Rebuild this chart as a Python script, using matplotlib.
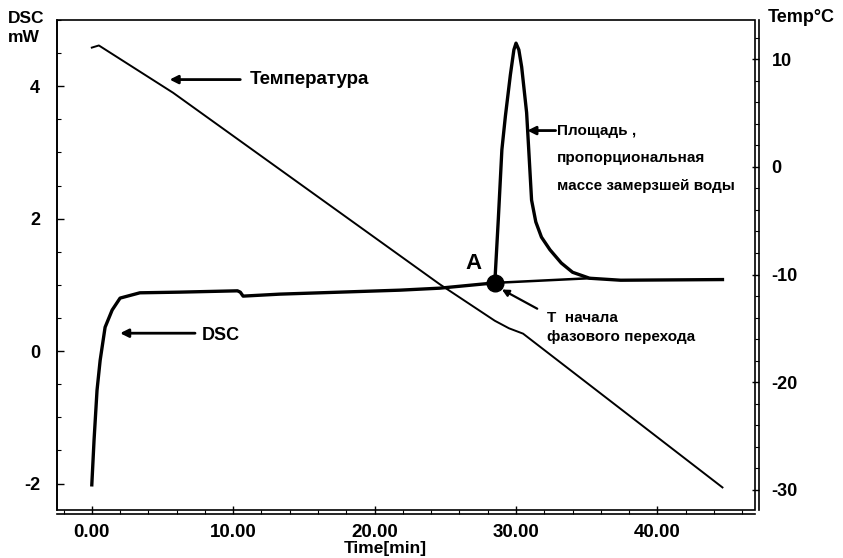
import matplotlib
matplotlib.use("Agg")
import matplotlib.pyplot as plt
from matplotlib.patches import Rectangle
from matplotlib.ticker import MultipleLocator, FormatStrFormatter

plt.rcParams['font.family'] = ['Liberation Sans', 'DejaVu Sans']
plt.rcParams['font.weight'] = 'bold'
plt.rcParams['axes.unicode_minus'] = False

# DSC signal, mW
dsc_time = [0.0, 0.16, 0.37, 0.59, 0.94, 1.44, 2.0, 3.4, 6.2, 10.3, 10.5, 10.7, 13.3,
            21.8, 24.6, 28.5, 28.75, 29.0, 29.25, 29.6, 29.85, 30.0, 30.2, 30.4, 30.75,
            30.9, 31.1, 31.4, 31.8, 32.4, 33.2, 34.0, 35.2, 37.4, 44.6]
dsc_mw = [-2.02, -1.34, -0.59, -0.14, 0.36, 0.62, 0.80, 0.88, 0.89, 0.91, 0.89, 0.83, 0.86,
          0.92, 0.95, 1.03, 2.0, 3.04, 3.55, 4.17, 4.55, 4.65, 4.55, 4.29, 3.60,
          3.04, 2.28, 1.95, 1.72, 1.53, 1.33, 1.19, 1.10, 1.07, 1.08]

# temperature, degC
temp_time = [0.0, 0.5, 5.75, 24.6, 28.5, 29.5, 30.5, 44.6]
temp_c = [11.1, 11.3, 6.9, -10.9, -14.3, -15.0, -15.5, -29.8]

# onset point A and integration baseline
onset_t, onset_mw = 28.5, 1.03
base_time = [28.5, 35.2]
base_mw = [1.03, 1.10]

fig = plt.figure(figsize=(8.43, 5.58), dpi=100)
ax = fig.add_axes([0.0673, 0.086, 0.8283, 0.8782])
ax2 = ax.twinx()

ax.plot(dsc_time, dsc_mw, color='black', lw=2.4, solid_joinstyle='round')
ax.plot(base_time, base_mw, color='black', lw=1.8)
ax.plot([onset_t], [onset_mw], 'o', color='black', ms=12)
ax2.plot(temp_time, temp_c, color='black', lw=1.4)

ax.set_xlim(-2.48, 46.9)
ax.set_ylim(-2.40, 5.0)
ax2.set_ylim(-31.9, 13.67)

# frame plus slightly offset axis lines, as in the original
ax.add_patch(Rectangle((0, 0), 1, 1, transform=ax.transAxes, fill=False,
                       lw=1.2, ec='black', clip_on=False, zorder=5))
for sp in ['top', 'right']:
    ax.spines[sp].set_visible(False)
ax.spines['bottom'].set_position(('outward', 3))
ax.spines['left'].set_linewidth(1.2)
ax.spines['bottom'].set_linewidth(1.2)
for sp in ['top', 'left', 'bottom']:
    ax2.spines[sp].set_visible(False)
ax2.spines['right'].set_position(('outward', 3))
ax2.spines['right'].set_linewidth(1.2)

ax.xaxis.set_major_locator(MultipleLocator(10))
ax.xaxis.set_minor_locator(MultipleLocator(2))
ax.xaxis.set_major_formatter(FormatStrFormatter('%.2f'))
ax.yaxis.set_major_locator(MultipleLocator(2))
ax.yaxis.set_minor_locator(MultipleLocator(0.5))
ax2.yaxis.set_major_locator(MultipleLocator(10))
ax2.yaxis.set_minor_locator(MultipleLocator(2))

ax.tick_params(axis='x', which='major', direction='in', length=6, width=1, labelsize=13.5, pad=7)
ax.tick_params(axis='x', which='minor', direction='in', length=3, width=0.8)
ax.tick_params(axis='y', which='major', direction='in', length=5, width=1, labelsize=13, pad=12)
ax.tick_params(axis='y', which='minor', direction='in', length=3, width=0.8)
ax2.tick_params(axis='y', which='major', direction='in', length=5, width=1, labelsize=13, pad=9)
ax2.tick_params(axis='y', which='minor', direction='in', length=3, width=0.8)

fig.text(385 / 843, 1 - 548 / 558, 'Time[min]', ha='center', va='center', fontsize=12.5,
         fontweight='bold')
fig.text(8 / 843, 1 - 28 / 558, 'DSC\nmW', ha='left', va='center', fontsize=12.5,
         fontweight='bold', linespacing=1.3)
fig.text(768 / 843, 1 - 18 / 558, 'Temp°C', ha='left', va='center', fontsize=13, fontweight='bold')

arrow = dict(arrowstyle='-|>', color='black', lw=2, mutation_scale=12, shrinkA=0, shrinkB=0)

ax.annotate('', xy=(5.5, 4.1), xytext=(10.5, 4.1), arrowprops=arrow)
ax.text(11.2, 4.1, 'Температура', ha='left', va='center', fontsize=13.5, fontweight='bold')

ax.annotate('', xy=(2.0, 0.27), xytext=(7.3, 0.27), arrowprops=arrow)
ax.text(7.8, 0.24, 'DSC', ha='left', va='center', fontsize=13, fontweight='bold')

ax.annotate('', xy=(30.8, 3.33), xytext=(32.8, 3.33), arrowprops=arrow)
ax.text(32.9, 3.33, 'Площадь ,', ha='left', va='center', fontsize=11, fontweight='bold')
ax.text(32.9, 2.92, 'пропорциональная', ha='left', va='center', fontsize=11, fontweight='bold')
ax.text(32.9, 2.50, 'массе замерзшей воды', ha='left', va='center', fontsize=11, fontweight='bold')

ax.text(27.0, 1.33, 'A', ha='center', va='center', fontsize=16, fontweight='bold')
ax.annotate('', xy=(29.0, 0.93), xytext=(31.5, 0.64),
            arrowprops=dict(arrowstyle='-|>', color='black', lw=1.6, mutation_scale=10,
                            shrinkA=0, shrinkB=0))
ax.text(32.2, 0.50, 'Т  начала', ha='left', va='center', fontsize=11, fontweight='bold')
ax.text(32.2, 0.21, 'фазового перехода', ha='left', va='center', fontsize=11, fontweight='bold')

fig.savefig('out.png', dpi=100)
